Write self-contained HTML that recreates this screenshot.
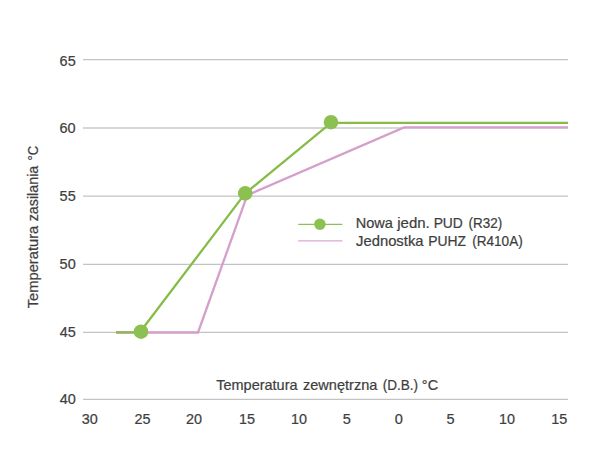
<!DOCTYPE html>
<html>
<head>
<meta charset="utf-8">
<style>
html,body{margin:0;padding:0;background:#fff;}
body{width:610px;height:472px;overflow:hidden;}
svg{display:block;}
text{font-family:"Liberation Sans",sans-serif;font-size:14.4px;fill:#3e3e3e;stroke:#3e3e3e;stroke-width:0.22px;}
</style>
</head>
<body>
<svg width="610" height="472" viewBox="0 0 610 472">
<rect width="610" height="472" fill="#ffffff"/>
<!-- gridlines -->
<g stroke="#c2c4c3" stroke-width="1.3" fill="none">
<line x1="83" y1="59.6" x2="568" y2="59.6"/>
<line x1="83" y1="128" x2="568" y2="128" stroke="#c9cbca"/>
<line x1="83" y1="196.15" x2="568" y2="196.15"/>
<line x1="83" y1="264.4" x2="568" y2="264.4"/>
<line x1="83" y1="332.4" x2="568" y2="332.4"/>
<line x1="83" y1="399.4" x2="568" y2="399.4"/>
</g>
<!-- pink series -->
<polyline points="116,332.5 198,332.5 247.2,195.3 404,127.45 568,127.45" fill="none" stroke="#d59fcc" stroke-width="2.3" stroke-linejoin="miter"/>
<!-- green series -->
<polyline points="116,332.3 139.9,332.3 245.2,193.4 331,122.85 568,122.85" fill="none" stroke="#87bc49" stroke-width="2.3" stroke-linejoin="round"/>
<g fill="#8cc152">
<circle cx="141" cy="331.7" r="7.3"/>
<circle cx="245.2" cy="193.4" r="7.3"/>
<circle cx="331" cy="122.2" r="7.3"/>
</g>
<!-- legend -->
<line x1="298.2" y1="224.35" x2="342.4" y2="224.35" stroke="#8cc152" stroke-width="1.3"/>
<circle cx="319.9" cy="224.2" r="5.75" fill="#8cc152"/>
<line x1="298.2" y1="240.9" x2="342.4" y2="240.9" stroke="#d9a9d3" stroke-width="1.4"/>
<!-- text -->
<text x="355.71" y="228" textLength="37.19" lengthAdjust="spacingAndGlyphs">Nowa</text>
<text x="397.22" y="228" textLength="32.52" lengthAdjust="spacingAndGlyphs">jedn.</text>
<text x="433.63" y="228" textLength="29.24" lengthAdjust="spacingAndGlyphs">PUD</text>
<text x="468.50" y="228" textLength="33.69" lengthAdjust="spacingAndGlyphs">(R32)</text>
<text x="356.00" y="246" textLength="67.55" lengthAdjust="spacingAndGlyphs">Jednostka</text>
<text x="428.33" y="246" textLength="37.78" lengthAdjust="spacingAndGlyphs">PUHZ</text>
<text x="472.15" y="246" textLength="50.65" lengthAdjust="spacingAndGlyphs">(R410A)</text>
<text x="216.19" y="390" textLength="81.40" lengthAdjust="spacingAndGlyphs">Temperatura</text>
<text x="302.96" y="390" textLength="74.39" lengthAdjust="spacingAndGlyphs">zewnętrzna</text>
<text x="382.66" y="390" textLength="35.34" lengthAdjust="spacingAndGlyphs">(D.B.)</text>
<text x="421.88" y="390" textLength="16.24" lengthAdjust="spacingAndGlyphs">°C</text>
<text x="81.73" y="424" textLength="16.00" lengthAdjust="spacingAndGlyphs">30</text>
<text x="134.47" y="424" textLength="16.00" lengthAdjust="spacingAndGlyphs">25</text>
<text x="186.07" y="424" textLength="16.00" lengthAdjust="spacingAndGlyphs">20</text>
<text x="238.91" y="424" textLength="16.00" lengthAdjust="spacingAndGlyphs">15</text>
<text x="291.04" y="424" textLength="16.00" lengthAdjust="spacingAndGlyphs">10</text>
<text x="342.69" y="424" textLength="8.10" lengthAdjust="spacingAndGlyphs">5</text>
<text x="394.88" y="424" textLength="8.10" lengthAdjust="spacingAndGlyphs">0</text>
<text x="446.53" y="424" textLength="8.10" lengthAdjust="spacingAndGlyphs">5</text>
<text x="499.12" y="424" textLength="16.00" lengthAdjust="spacingAndGlyphs">10</text>
<text x="551.19" y="424" textLength="16.00" lengthAdjust="spacingAndGlyphs">15</text>
<text x="59.60" y="66" textLength="16.10" lengthAdjust="spacingAndGlyphs">65</text>
<text x="59.58" y="133" textLength="16.10" lengthAdjust="spacingAndGlyphs">60</text>
<text x="59.61" y="201" textLength="16.10" lengthAdjust="spacingAndGlyphs">55</text>
<text x="59.61" y="269" textLength="16.10" lengthAdjust="spacingAndGlyphs">50</text>
<text x="59.83" y="337" textLength="16.10" lengthAdjust="spacingAndGlyphs">45</text>
<text x="59.73" y="404" textLength="16.10" lengthAdjust="spacingAndGlyphs">40</text>
<text transform="translate(37.9,308.33) rotate(-90)" textLength="82.63" lengthAdjust="spacingAndGlyphs">Temperatura</text>
<text transform="translate(37.9,221.36) rotate(-90)" textLength="55.65" lengthAdjust="spacingAndGlyphs">zasilania</text>
<text transform="translate(37.9,160.57) rotate(-90)" textLength="14.67" lengthAdjust="spacingAndGlyphs">°C</text>
</svg>
</body>
</html>
